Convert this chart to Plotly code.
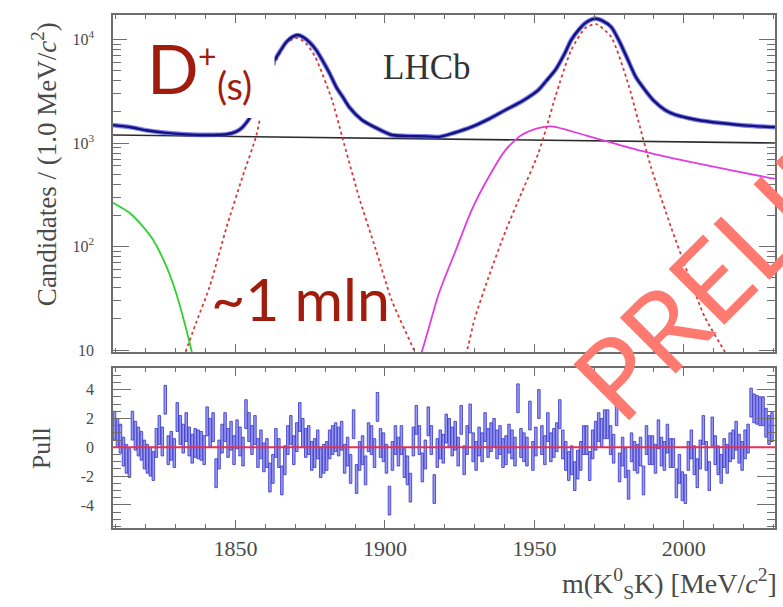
import plotly.graph_objects as go

# ---------------- data ----------------
# total fit (mass in MeV/c^2, candidates per 1 MeV/c^2)
total_m = [1809, 1815, 1820, 1826, 1832, 1838, 1843, 1847, 1850, 1852.3, 1855.7, 1858,
           1860.3, 1862, 1863.7, 1867, 1869, 1870.8, 1872.5, 1874.7, 1877, 1879, 1881.5,
           1883.7, 1886, 1888, 1892.3, 1897, 1902.3, 1908, 1913.7, 1918, 1923, 1929,
           1935, 1940.3, 1946, 1951.3, 1954, 1957, 1960, 1962.3, 1965, 1967, 1969,
           1970.7, 1972.5, 1975.7, 1978.5, 1981.3, 1984, 1987, 1990, 1993.7, 1997,
           2001.3, 2006, 2012.3, 2020, 2029, 2030.5]
total_v = [1490, 1420, 1330, 1260, 1220, 1200, 1200, 1215, 1280, 1420, 1950, 2900,
           4350, 5600, 6780, 9460, 10600, 11060, 10600, 9460, 7900, 6340, 4700,
           3475, 2750, 2230, 1670, 1400, 1195, 1165, 1160, 1145, 1250, 1430,
           1720, 2085, 2550, 3250, 4000, 5070, 7200, 9885, 12600, 14420, 15600,
           15900, 15300, 13200, 9500, 6340, 4300, 3250, 2550, 2085, 1880,
           1745, 1640, 1560, 1480, 1430, 1425]

# D+ signal component
dp_m = [1833.3, 1837, 1841.3, 1847, 1852.3, 1857, 1860.3, 1863.7, 1867, 1870.8,
        1874, 1876.7, 1882.3, 1885.7, 1891.3, 1897, 1902.3, 1909.7, 1911]
dp_v = [9.6, 19, 40.6, 154, 469, 1194, 3475, 6340, 9300, 10350,
        8900, 6780, 2600, 1143, 300, 92, 30, 10, 8]

# Ds+ signal component
ds_m = [1926, 1927.3, 1930, 1934.7, 1940.3, 1945.7, 1951.3, 1954, 1957, 1962.3,
        1967, 1970.7, 1975.7, 1981.3, 1984.7, 1989, 1995.7, 2001.3, 2007, 2013.7, 2015]
ds_v = [8, 9.6, 20, 51, 140, 330, 790, 1400, 2800, 7900,
        12900, 14100, 10570, 3800, 1667, 586, 154, 55.5, 20.8, 9.6, 8]

# combinatorial background
comb_m = [1809, 2030.5]
comb_v = [1194, 1000]

# misidentified background (magenta)
mis_m = [1911, 1912.3, 1918, 1923.7, 1929, 1934.7, 1940.3, 1945.7, 1951.3, 1955.7,
         1968, 1984.7, 2007, 2029, 2030.5]
mis_v = [8, 9.6, 35, 92, 225, 469, 855, 1194, 1396, 1450,
         1168, 855, 614, 459, 452]

# low-mass background (green)
low_m = [1809, 1814.7, 1819.1, 1822.4, 1826.9, 1830.2, 1833, 1835.2, 1836.3]
low_v = [265, 210, 155, 116, 64, 35, 18, 10, 7]

# pulls, one per 1 MeV/c^2 bin starting at 1809
pull = [1.5, 1.0, 0.6, -0.3, -0.8, -1.1, 1.5, 0.8, 0.4, 0.1,
        -0.5, -0.8, -1.0, -1.3, 0.3, 1.2, 0.4, 3.3, -0.2, 0.1,
        -0.4, 2.1, 1.2, 0.6, 1.4, 0.4, -0.1, 0.3, 0.2, 0.1,
        -0.2, 1.8, 1.0, 1.4, -1.8, -0.5, 0.6, 1.4, 0.3, 0.8,
        -0.2, 0.9, 0.4, -0.3, 2.3, 1.4, 0.5, 1.2, -0.4, 0.2,
        -0.7, -0.4, -2.1, -1.5, 0.3, -0.4, -2.3, -0.9, 0.5, 1.2,
        -0.2, 0.7, 2.1, 1.0, 0.3, 0.5, -0.6, -0.4, 0.2, -1.1,
        -0.8, -0.6, 0.2, 0.5, 0.7, 0.4, 0.8, -0.8, -0.3, -1.5,
        1.6, -2.2, -0.6, -0.2, -1.6, 0.7, 0.5, -0.4, 2.8, 0.3,
        0.0, -0.8, -3.7, -0.6, 0.5, -0.3, 0.5, -1.1, -1.6, -2.8,
        0.4, 1.9, 0.5, -1.4, -0.5, 1.8, 0.5, -2.9, -0.4, 0.2,
        -0.1, 1.3, 1.0, 0.4, 0.8, -0.3, 1.9, -0.9, 0.5, 2.0,
        0.0, -0.6, 0.4, 0.0, 1.4, 0.3, 0.7, 1.0, 0.2, 0.5,
        -0.4, -0.2, 0.6, 0.2, -0.3, 3.4, 0.3, 0.0, -0.3, 2.2,
        -0.6, 0.4, 3.0, 0.5, -0.2, 1.4, 0.0, 0.3, 0.7, 2.3,
        0.2, -0.6, -1.3, -0.9, -2.0, -1.2, -0.6, 0.5, 0.5, -1.3,
        0.2, 0.8, 1.4, 1.0, 1.6, 1.6, 0.5, -0.1, 2.5, -1.4,
        -0.3, -1.1, -2.6, 0.0, -0.6, -0.8, -0.3, -2.3, 0.5, -0.2,
        -0.2, -0.8, 0.9, -0.3, -0.6, 0.6, -0.4, -0.4, -2.5, -1.5,
        -2.7, -2.9, -0.6, 0.2, -0.9, -1.8, -0.5, 1.2, -0.6, -2.0,
        1.1, -0.2, -0.9, -1.5, -0.4, -0.8, 0.0, 0.2, 0.8, -0.1,
        -0.6, 0.2, 0.6, 3.1, 2.7, 2.6, 2.5, 2.5, 1.7, 1.2, 1.4]
first_bin = 1809
bin_width = 1.0

y_ticks = [10, 100, 1000, 10000]
y_ticktext = ["10", "10<sup>2</sup>", "10<sup>3</sup>", "10<sup>4</sup>"]
pull_ticks = [-4, -2, 0, 2, 4]
pull_ticktext = ["-4", "-2", "0", "2", "4"]

# ---------------- figure ----------------
SERIF = "Liberation Serif"
SANS = "Lato"
DARKRED = "#a01c0c"
AXC = "#6e6e6e"
TXT = "#4a4a4a"

fig = go.Figure()

line_kw = dict(mode="lines", hoverinfo="skip", showlegend=False)

fig.add_trace(go.Scatter(x=comb_m, y=comb_v, line=dict(color="#2b2b2b", width=1.6), **line_kw))
fig.add_trace(go.Scatter(x=low_m, y=low_v, line=dict(color="#2fd02f", width=1.8, shape="spline", smoothing=0.7), **line_kw))
fig.add_trace(go.Scatter(x=mis_m, y=mis_v, line=dict(color="#e03ce0", width=1.8, shape="spline", smoothing=0.7), **line_kw))
fig.add_trace(go.Scatter(x=dp_m, y=dp_v, line=dict(color="#d83a3a", width=1.8, dash="dot", shape="spline", smoothing=0.6), **line_kw))
fig.add_trace(go.Scatter(x=ds_m, y=ds_v, line=dict(color="#d83a3a", width=1.8, dash="dot", shape="spline", smoothing=0.6), **line_kw))
# data halo and total fit
fig.add_trace(go.Scatter(x=total_m, y=total_v, line=dict(color="#4a4ae8", width=4.6, shape="spline", smoothing=0.7), opacity=0.7, **line_kw))
fig.add_trace(go.Scatter(x=total_m, y=total_v, line=dict(color="#13137a", width=2.4, shape="spline", smoothing=0.7), **line_kw))

# pull panel: +-1 sigma boxes around each pull value
centers = [first_bin + bin_width * (i + 0.5) for i in range(len(pull))]
fig.add_trace(go.Bar(
    x=centers, y=[2.0] * len(pull), base=[p - 1.0 for p in pull],
    width=0.85 * bin_width, xaxis="x2", yaxis="y2",
    marker=dict(color="#9a9af4", line=dict(color="#3232c4", width=0.8)),
    hoverinfo="skip", showlegend=False))
fig.add_trace(go.Scatter(x=[1809, 2030.5], y=[0, 0], xaxis="x2", yaxis="y2",
                         line=dict(color="#e6304e", width=2), **line_kw))

minor_y = [k * 10 ** d for d in range(1, 5) for k in range(2, 10)]

common_x = dict(range=[1809, 2030.5], showgrid=False, zeroline=False, showline=True,
                linecolor=AXC, linewidth=1.5, mirror="ticks", ticks="inside",
                tickcolor=AXC, ticklen=8, tickwidth=1.3, tick0=1800, dtick=50,
                minor=dict(ticks="inside", ticklen=4, dtick=10, tickcolor=AXC, showgrid=False))

fig.update_layout(
    width=783, height=607,
    margin=dict(l=113, r=6, t=15, b=79),
    paper_bgcolor="white", plot_bgcolor="white",
    barmode="overlay",
    xaxis=dict(**common_x, anchor="y", showticklabels=False, matches="x2"),
    xaxis2=dict(**common_x, anchor="y2", showticklabels=True,
                tickfont=dict(family=SERIF, size=22, color=TXT)),
    yaxis=dict(type="log", domain=[0.3431, 1], range=[0.981, 4.237],
               tickvals=y_ticks, ticktext=y_ticktext, showgrid=False, zeroline=False,
               showline=True, linecolor=AXC, linewidth=1.5, mirror="ticks",
               ticks="inside", ticklen=16, tickwidth=1.3, tickcolor=AXC,
               ticklabelstandoff=14,
               tickfont=dict(family=SERIF, size=16, color=TXT),
               minor=dict(tickvals=minor_y, ticks="inside", ticklen=8, tickcolor=AXC, showgrid=False)),
    yaxis2=dict(domain=[0, 0.3119], range=[-5.6, 5.5], anchor="x2",
                tickvals=pull_ticks, ticktext=pull_ticktext, showgrid=False, zeroline=False,
                showline=True, linecolor=AXC, linewidth=1.5, mirror="ticks",
                ticks="inside", ticklen=18, tickwidth=1.3, tickcolor=AXC,
                ticklabelstandoff=14,
                tickfont=dict(family=SERIF, size=16, color=TXT),
                minor=dict(dtick=0.5, ticks="inside", ticklen=8, tickcolor=AXC, showgrid=False)),
)

# white label box in the top-left corner
fig.add_shape(type="rect", xref="paper", yref="paper", x0=0.0211, x1=0.244, y0=0.7992, y1=0.9805,
              fillcolor="white", line=dict(width=0), layer="above")

ann = []
ann.append(dict(text="Candidates / (1.0 MeV/<i>c</i><sup>2</sup>)", x=-0.104, y=0.7096, textangle=-90,
                font=dict(family=SERIF, size=27, color=TXT)))
ann.append(dict(text="Pull", x=-0.107, y=0.156, textangle=-90,
                font=dict(family=SERIF, size=26, color=TXT)))
ann.append(dict(text="m(K<sup>0</sup><sub>S</sub>K) [MeV/<i>c</i><sup>2</sup>]", x=1.006, y=-0.109,
                xanchor="right", font=dict(family=SERIF, size=28, color=TXT)))
ann.append(dict(text="LHCb", x=0.4744, y=0.8967, font=dict(family=SERIF, size=35, color="#333333")))
ann.append(dict(text="D", x=0.0905, y=0.8986, font=dict(family=SANS, size=68, color=DARKRED)))
ann.append(dict(text="+", x=0.1430, y=0.922, font=dict(family=SANS, size=32, color=DARKRED)))
ann.append(dict(text="(s)", x=0.1837, y=0.8635, font=dict(family=SANS, size=38, color=DARKRED)))
ann.append(dict(text="~1 mln", x=0.2839, y=0.4464, font=dict(family=SANS, size=59, color=DARKRED)))
ann.append(dict(text="PRELIMINARY", x=1.103, y=0.747, textangle=-45,
                font=dict(family=SANS, size=110, color="#fe7a70")))
for a in ann:
    a.setdefault("xanchor", "center")
    a.update(xref="paper", yref="paper", yanchor="middle", showarrow=False)
fig.update_layout(annotations=ann)

fig.write_html("out.html")
